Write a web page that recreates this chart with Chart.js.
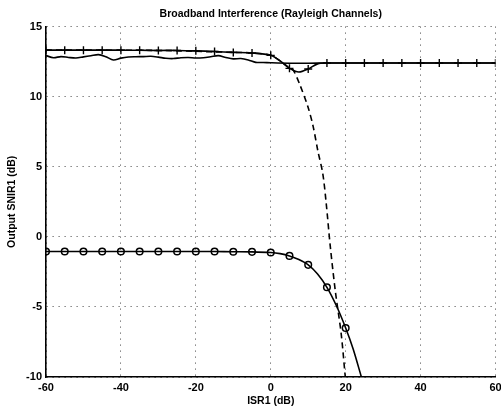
<!DOCTYPE html>
<html>
<head>
<meta charset="utf-8">
<script src="https://cdn.jsdelivr.net/npm/chart.js@4"></script>
<style>
  html, body { margin: 0; padding: 0; background: #fff; }
  #wrap { width: 501px; height: 409px; }
</style>
</head>
<body>
<div id="wrap"><canvas id="snirChart"></canvas></div>
<script>
// values
const xTicks = [-60, -40, -20, 0, 20, 40, 60];
const yTicks = [-10, -5, 0, 5, 10, 15];
const markerX = [-60, -55, -50, -45, -40, -35, -30, -25, -20, -15, -10, -5, 0, 5, 10, 15, 20, 25, 30, 35, 40, 45, 50, 55, 60];

// solid line with "+" markers
const plusX = [-60, -55, -50, -45, -40, -35, -30, -25, -20, -15, -10, -5, 0, 2.5, 5, 7.5, 10, 12.5, 15, 20, 25, 30, 35, 40, 45, 50, 55, 60];
const plusY = [13.32, 13.32, 13.32, 13.32, 13.32, 13.31, 13.3, 13.3, 13.27, 13.22, 13.16, 13.12, 12.95, 12.55, 12.02, 11.76, 11.98, 12.34, 12.4, 12.4, 12.4, 12.4, 12.4, 12.4, 12.4, 12.4, 12.4, 12.4];

// wavy solid line without markers
const wavyX = [-60, -58, -56, -54, -52, -50, -48, -46, -44, -42, -40, -38, -36, -34, -32, -30, -28, -26, -24, -22, -20, -18, -16, -14, -12, -10, -8, -6, -4, -2, 0, 5, 10, 15, 20, 30, 40, 50, 60];
const wavyY = [12.93, 12.78, 12.86, 12.8, 12.76, 12.84, 12.92, 13.0, 12.85, 12.62, 12.75, 12.83, 12.85, 12.86, 12.88, 12.82, 12.74, 12.72, 12.78, 12.8, 12.76, 12.78, 12.85, 12.93, 12.8, 12.7, 12.72, 12.62, 12.45, 12.44, 12.42, 12.39, 12.39, 12.4, 12.4, 12.4, 12.4, 12.4, 12.4];

// dashed line
const dashX = [-60, -30, -10, -5, 0, 2.5, 5, 6, 7.7, 9.9, 11.3, 12.6, 13.9, 14.8, 15.9, 17.3, 18.8, 19.9, 20.3];
const dashY = [13.32, 13.3, 13.16, 13.12, 12.95, 12.55, 12.05, 11.9, 10.9, 9.3, 7.9, 6.1, 4.5, 2.4, -0.7, -4.0, -6.9, -10, -11];

// solid line with "o" markers
const circX = [-60, -55, -50, -45, -40, -35, -30, -25, -20, -15, -10, -5, 0, 2.5, 5, 7.5, 10, 12.5, 15, 17.5, 20, 22, 24.2, 25];
const circY = [-1.05, -1.05, -1.05, -1.05, -1.05, -1.05, -1.05, -1.05, -1.05, -1.05, -1.06, -1.07, -1.12, -1.2, -1.36, -1.62, -2.0, -2.65, -3.6, -4.9, -6.5, -8.0, -10, -10.7];

const toPoints = (xs, ys) => xs.map((x, i) => ({ x: x, y: ys[i] }));
const markerRadius = (r) => (ctx) => {
  const p = ctx.raw;
  return p && markerX.includes(p.x) ? r : 0;
};

const boldFont = { family: "'Liberation Sans', Arial, sans-serif", size: 11, weight: 'bold' };
const gridStyle = { color: '#444', lineWidth: 1, drawTicks: false };
const axisBorder = { display: true, color: '#000', width: 1.6, dash: [1, 5] };

new Chart(document.getElementById('snirChart'), {
  type: 'line',
  data: {
    datasets: [
      {
        data: toPoints(wavyX, wavyY),
        borderColor: '#000',
        borderWidth: 1.6,
        pointRadius: 0,
        tension: 0.3
      },
      {
        data: toPoints(dashX, dashY),
        borderColor: '#000',
        borderWidth: 1.6,
        borderDash: [6, 4],
        pointRadius: 0,
        tension: 0.3
      },
      {
        data: toPoints(plusX, plusY),
        borderColor: '#000',
        borderWidth: 1.6,
        pointStyle: 'cross',
        pointRadius: markerRadius(4),
        pointBorderColor: '#000',
        pointBorderWidth: 1.4,
        tension: 0.3
      },
      {
        data: toPoints(circX, circY),
        borderColor: '#000',
        borderWidth: 1.6,
        pointStyle: 'circle',
        pointRadius: markerRadius(3.3),
        pointBackgroundColor: 'rgba(255,255,255,0)',
        pointBorderColor: '#000',
        pointBorderWidth: 1.5,
        tension: 0.3
      }
    ]
  },
  options: {
    responsive: true,
    maintainAspectRatio: false,
    animation: false,
    layout: { padding: { top: 0, right: 5, left: 0, bottom: 0 } },
    plugins: {
      legend: { display: false },
      tooltip: { enabled: false },
      title: {
        display: true,
        fullSize: false,
        text: 'Broadband Interference (Rayleigh Channels)',
        color: '#000',
        font: { ...boldFont, size: 10.5 },
        padding: { top: 8, bottom: 6 }
      }
    },
    scales: {
      x: {
        type: 'linear',
        min: -60,
        max: 60,
        afterBuildTicks: (scale) => { scale.ticks = xTicks.map(v => ({ value: v })); },
        afterFit: (scale) => { scale.height = 32; scale.paddingRight = 0; scale.paddingLeft = 0; },
        border: axisBorder,
        grid: gridStyle,
        ticks: { color: '#000', font: boldFont, padding: 4, maxRotation: 0 },
        title: { display: true, text: 'ISR1 (dB)', color: '#000', font: { ...boldFont, size: 10.5 }, padding: { top: 0, bottom: 2 } }
      },
      y: {
        type: 'linear',
        min: -10,
        max: 15,
        afterBuildTicks: (scale) => { scale.ticks = yTicks.map(v => ({ value: v })); },
        afterFit: (scale) => { scale.width = 46; scale.paddingTop = 0; scale.paddingBottom = 0; },
        border: axisBorder,
        grid: gridStyle,
        ticks: { color: '#000', font: boldFont, padding: 4 },
        title: { display: true, text: 'Output SNIR1 (dB)', color: '#000', font: { ...boldFont, size: 10.5 }, padding: { top: 6, bottom: 0 } }
      }
    }
  }
});
</script>
</body>
</html>
